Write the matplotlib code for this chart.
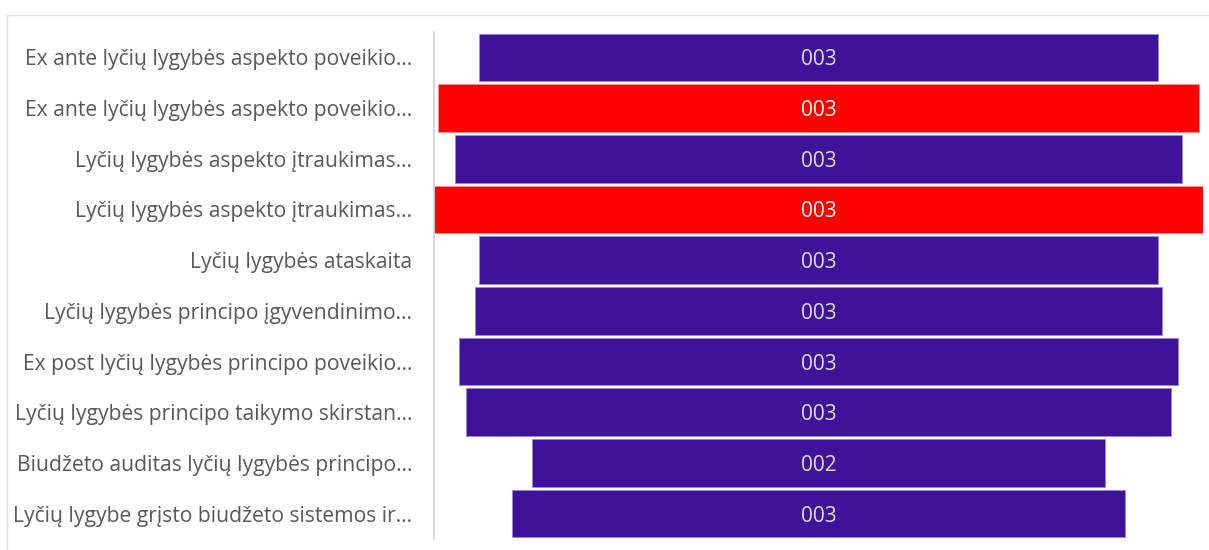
import matplotlib
matplotlib.use("Agg")
import matplotlib.pyplot as plt
from matplotlib.patches import Rectangle

plt.rcParams['font.family'] = ['Open Sans', 'DejaVu Sans']

categories = [
    "Ex ante lyčių lygybės aspekto poveikio…",
    "Ex ante lyčių lygybės aspekto poveikio…",
    "Lyčių lygybės aspekto įtraukimas…",
    "Lyčių lygybės aspekto įtraukimas…",
    "Lyčių lygybės ataskaita",
    "Lyčių lygybės principo įgyvendinimo…",
    "Ex post lyčių lygybės principo poveikio…",
    "Lyčių lygybės principo taikymo skirstan…",
    "Biudžeto auditas lyčių lygybės principo…",
    "Lyčių lygybe grįsto biudžeto sistemos ir…",
]
values = [2.87, 3.22, 3.07, 3.25, 2.87, 2.90, 3.04, 2.98, 2.42, 2.59]
highlighted = [False, True, False, True, False, False, False, False, False, False]

PURPLE = "#3F1399"
RED = "#FF0000"

W, H = 1209, 550
fig = plt.figure(figsize=(W / 100, H / 100), dpi=100)

# card border
fig.patches.append(Rectangle((7 / W, -0.1), 1.2, 1 - 15 / H + 0.1, transform=fig.transFigure,
                             facecolor="none", edgecolor="#E3E3E3", linewidth=1.0))

ax = fig.add_axes([434 / W, 1 - 539 / H, (1203 - 434) / W, (539 - 32) / H])

vmax = max(values)
n = len(values)
ys = list(range(n))
lefts = [-v / 2 for v in values]
colors = [RED if h else PURPLE for h in highlighted]
edges = ["#FF9090" if h else "#9A88D6" for h in highlighted]

ax.barh(ys, values, left=lefts, height=0.94, color=colors, edgecolor=edges, linewidth=0.7)

for y, v, h in zip(ys, values, highlighted):
    ax.text(0, y, f"{round(v):03d}", ha="center", va="center_baseline", fontsize=15,
            color="#FFFFFF" if h else "#E2DCF2")

ax.set_xlim(-vmax / 2, vmax / 2)
ax.set_ylim(n - 0.5, -0.5)
ax.set_yticks(ys)
ax.set_yticklabels(categories, fontsize=15.2, color="#595959")
ax.tick_params(axis="y", length=0, pad=15.5)
ax.set_xticks([])
for side in ["top", "right", "bottom"]:
    ax.spines[side].set_visible(False)
ax.spines["left"].set_color("#D0D0D0")
ax.spines["left"].set_linewidth(1.2)

fig.savefig("out.png", dpi=100)
